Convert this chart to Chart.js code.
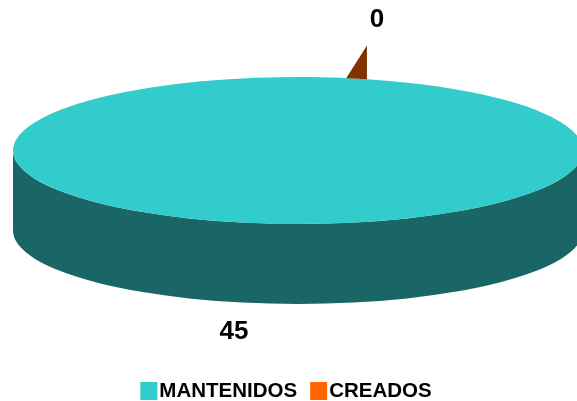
<!DOCTYPE html>
<html>
<head>
<meta charset="utf-8">
<script src="https://cdn.jsdelivr.net/npm/chart.js@4.4.0/dist/chart.umd.min.js"></script>
<style>
  html, body { margin: 0; padding: 0; background: #fff; }
  canvas { display: block; }
</style>
</head>
<body>
<canvas id="pieChart" width="577" height="401"></canvas>
<script>
// Data
const labels = ['MANTENIDOS', 'CREADOS'];
const values = [45, 0];
const sliceColors = ['#33CCCC', '#FF6600'];

// Tilted pie geometry
const CX = 298, CY = 150.5;     // centre of the top face
const RX = 285, RY = 73.5;      // ellipse radii of the top face
const DEPTH = 80;               // thickness of the disc
const FIRST_SLICE = 14;         // degrees clockwise from 12 o'clock

const FONT = '"Liberation Sans", Arial, sans-serif';

// darken a #rrggbb colour by factor f (0..1)
function shade(hex, f) {
    const n = parseInt(hex.slice(1), 16);
    const r = Math.round(((n >> 16) & 255) * f);
    const g = Math.round(((n >> 8) & 255) * f);
    const b = Math.round((n & 255) * f);
    return 'rgb(' + r + ',' + g + ',' + b + ')';
}

function onEllipse(a) {
    return { x: CX + RX * Math.cos(a), y: CY + RY * Math.sin(a) };
}

// Draws the disc side, squashes the pie into an ellipse, adds the value labels
const pie3d = {
    id: 'pie3d',
    beforeDatasetsDraw(chart) {
        const ctx = chart.ctx;
        const arcs = chart.getDatasetMeta(0).data;

        // front wall of each slice (only the lower half of the ellipse is visible)
        arcs.forEach((arc, i) => {
            for (let k = -1; k <= 1; k++) {
                const s = Math.max(arc.startAngle, 2 * Math.PI * k);
                const e = Math.min(arc.endAngle, 2 * Math.PI * k + Math.PI);
                if (e - s <= 0) continue;
                ctx.beginPath();
                ctx.ellipse(CX, CY, RX, RY, 0, s, e);
                ctx.ellipse(CX, CY + DEPTH, RX, RY, 0, e, s, true);
                ctx.closePath();
                ctx.fillStyle = shade(sliceColors[i], 0.5);
                ctx.fill();
            }
        });

        const a = arcs[0];
        ctx.save();
        ctx.translate(CX, CY);
        ctx.scale(1, RY / RX);
        ctx.translate(-a.x, -a.y);
    },
    afterDatasetsDraw(chart) {
        const ctx = chart.ctx;
        ctx.restore();
        const arcs = chart.getDatasetMeta(0).data;

        arcs.forEach((arc, i) => {
            const mid = (arc.startAngle + arc.endAngle) / 2;
            const p = onEllipse(mid);

            // an empty slice only shows its cut face
            if (arc.endAngle - arc.startAngle < 0.01) {
                ctx.beginPath();
                ctx.moveTo(p.x, p.y);
                ctx.lineTo(p.x, p.y - DEPTH * 0.42);
                ctx.lineTo(p.x - DEPTH * 0.26, p.y - 1);
                ctx.closePath();
                ctx.fillStyle = shade(sliceColors[i], 0.5);
                ctx.fill();
            }

            const front = Math.sin(mid) > 0;
            const lx = front ? p.x + 5 : p.x + 10;
            const ly = front ? p.y + DEPTH + 30 : p.y - 59;
            ctx.font = 'bold 26px ' + FONT;
            ctx.fillStyle = '#000';
            ctx.textAlign = 'center';
            ctx.textBaseline = 'middle';
            ctx.fillText(String(values[i]), lx, ly);
        });
    }
};

// Legend row along the bottom
const bottomLegend = {
    id: 'bottomLegend',
    afterDraw(chart) {
        const ctx = chart.ctx;
        const boxW = 17, boxH = 18, gap = 2, itemGap = 13;
        ctx.font = 'bold 20.5px ' + FONT;
        const widths = labels.map(t => ctx.measureText(t).width);
        let total = 0;
        widths.forEach((w, i) => { total += boxW + gap + w + (i ? itemGap : 0); });
        let x = 286 - total / 2;
        ctx.textAlign = 'left';
        ctx.textBaseline = 'alphabetic';
        labels.forEach((t, i) => {
            ctx.fillStyle = sliceColors[i];
            ctx.fillRect(x, 382, boxW, boxH);
            ctx.fillStyle = '#000';
            ctx.fillText(t, x + boxW + gap, 397);
            x += boxW + gap + widths[i] + itemGap;
        });
    }
};

new Chart(document.getElementById('pieChart'), {
    type: 'pie',
    data: {
        labels: labels,
        datasets: [{
            data: values,
            backgroundColor: sliceColors,
            borderWidth: 0,
            clip: false
        }]
    },
    options: {
        responsive: false,
        animation: false,
        events: [],
        rotation: FIRST_SLICE,
        radius: RX,
        plugins: {
            legend: { display: false },
            tooltip: { enabled: false }
        }
    },
    plugins: [pie3d, bottomLegend]
});
</script>
</body>
</html>
